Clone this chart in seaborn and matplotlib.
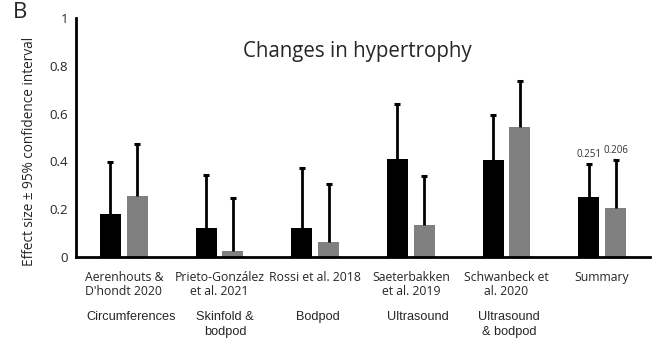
import matplotlib
matplotlib.use("Agg")
import matplotlib.pyplot as plt
import matplotlib.transforms as mtransforms
import seaborn as sns
import pandas as pd
import numpy as np

# ---- data ----
studies = ["Aerenhouts &\nD'hondt 2020", "Prieto-González\net al. 2021", "Rossi et al. 2018",
           "Saeterbakken\net al. 2019", "Schwanbeck et\nal. 2020", "Summary"]
methods = ["Circumferences", "Skinfold &\nbodpod", "Bodpod", "Ultrasound", "Ultrasound\n& bodpod"]
series_names = ["Group 1", "Group 2"]
effect_1 = [0.179, 0.121, 0.121, 0.410, 0.405, 0.251]
ci_1 = [0.217, 0.221, 0.251, 0.232, 0.189, 0.137]
effect_2 = [0.254, 0.025, 0.064, 0.133, 0.544, 0.206]
ci_2 = [0.217, 0.221, 0.242, 0.207, 0.193, 0.199]
yticks = [0, 0.2, 0.4, 0.6, 0.8, 1]
ytick_labels = ["0", "0.2", "0.4", "0.6", "0.8", "1"]

sns.set_theme(style="white")
plt.rcParams["font.family"] = ["Open Sans", "DejaVu Sans"]

df = pd.DataFrame({
    "study": studies * 2,
    "series": [series_names[0]] * len(studies) + [series_names[1]] * len(studies),
    "effect": effect_1 + effect_2,
})

fig = plt.figure(figsize=(6.64, 3.45), dpi=100)
ax = fig.add_axes([76 / 664, 1 - 257 / 345, (650 - 76) / 664, (257 - 18) / 345])

sns.barplot(data=df, x="study", y="effect", hue="series", order=studies,
            hue_order=series_names, palette=["#000000", "#808080"],
            width=0.56, gap=0.214, errorbar=None, legend=False, ax=ax,
            saturation=1, linewidth=0)

errs = [ci_1, ci_2]
for cont, err in zip(ax.containers, errs):
    xs = [p.get_x() + p.get_width() / 2 for p in cont.patches]
    hs = [p.get_height() for p in cont.patches]
    _, caps, _ = ax.errorbar(xs, hs, yerr=[np.zeros(len(err)), err], fmt="none",
                             ecolor="black", elinewidth=2, capsize=2.2, capthick=2.2,
                             zorder=3)
    caps[0].set_visible(False)  # hide lower caps
    # label summary values
    ax.annotate(f"{hs[-1]:.3f}", (xs[-1], hs[-1] + err[-1]), xytext=(0, 3),
                textcoords="offset points", ha="center", va="bottom",
                fontsize=7, color="#333333")

ax.set_xlim(-0.5, 5.5)
ax.set_ylim(0, 1)
ax.set_yticks(yticks)
ax.set_yticklabels(ytick_labels, fontsize=9.5)
ax.tick_params(axis="both", length=0)
ax.tick_params(axis="y", pad=5.5)
ax.tick_params(axis="x", pad=10, labelsize=8.8)
for lab in ax.get_xticklabels():
    lab.set_linespacing(1.15)
ax.set_xlabel("")
ax.set_ylabel("Effect size ± 95% confidence interval", fontsize=9.8)
ax.yaxis.set_label_coords(-0.068, 0.4435)
for s in ["top", "right"]:
    ax.spines[s].set_visible(False)
for s in ["left", "bottom"]:
    ax.spines[s].set_linewidth(2)
    ax.spines[s].set_color("black")

# method labels below study labels
method_pos = [0.08, 1.06, 2.03, 3.07, 4.03]
trans = mtransforms.blended_transform_factory(ax.transData, fig.transFigure)
for m, xp in zip(methods, method_pos):
    ax.text(xp, 1 - 311 / 345, m, transform=trans, ha="center", va="top",
            fontsize=9.2, family=["Liberation Sans"], linespacing=1.3)

fig.text(357 / 664, 1 - 51 / 345, "Changes in hypertrophy", ha="center", va="center",
         fontsize=14.8)
fig.text(13 / 664, 1 - 12 / 345, "B", ha="left", va="center", fontsize=16)

fig.savefig("out.png", dpi=100)
